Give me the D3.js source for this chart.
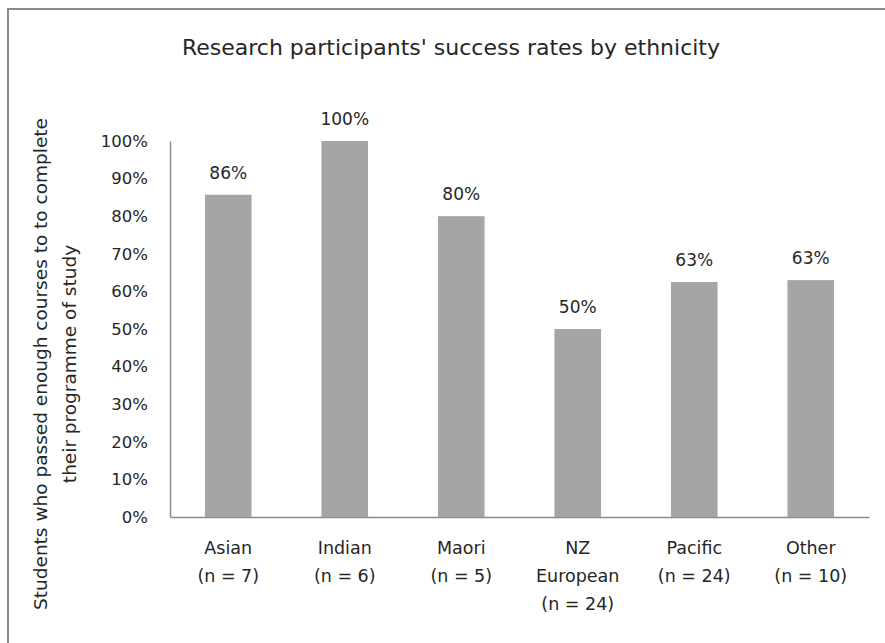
<!DOCTYPE html>
<html>
<head>
<meta charset="utf-8">
<script src="https://cdn.jsdelivr.net/npm/d3@7"></script>
<style>
  html, body { margin: 0; padding: 0; background: #fff; }
  text { font-family: "DejaVu Sans", sans-serif; fill: #262626; }
</style>
</head>
<body>
<svg id="chart" width="885" height="643"></svg>
<script>
const title = "Research participants' success rates by ethnicity";
const categories = ["Asian", "Indian", "Maori", "NZ European", "Pacific", "Other"];
const categoryLines = [["Asian", "(n = 7)"], ["Indian", "(n = 6)"], ["Maori", "(n = 5)"],
                       ["NZ", "European", "(n = 24)"], ["Pacific", "(n = 24)"], ["Other", "(n = 10)"]];
const values = [0.857, 1.00, 0.80, 0.50, 0.625, 0.63];
const valueLabels = ["86%", "100%", "80%", "50%", "63%", "63%"];
const yTicks = [0, 0.1, 0.2, 0.3, 0.4, 0.5, 0.6, 0.7, 0.8, 0.9, 1.0];
const yTitleLines = ["Students who passed enough courses to to complete", "their programme of study"];

const svg = d3.select("#chart");

// outer chart border (extends past right/bottom edges as in the reference)
svg.append("rect")
  .attr("x", 8).attr("y", 9).attr("width", 900).attr("height", 700)
  .attr("fill", "none").attr("stroke", "#8a8a8a").attr("stroke-width", 2);

const plot = { left: 170, right: 869, top: 141, bottom: 517 };

const x = d3.scaleBand().domain(categories).range([plot.left, plot.right]).paddingInner(0.6).paddingOuter(0.3);
const y = d3.scaleLinear().domain([0, 1]).range([plot.bottom, plot.top]);

// title
svg.append("text")
  .attr("x", 451).attr("y", 55)
  .attr("text-anchor", "middle")
  .style("font-size", "22px")
  .text(title);

// y axis
const yAxis = d3.axisLeft(y).tickValues(yTicks).tickFormat(d3.format(".0%")).tickSize(0).tickPadding(22);
const gy = svg.append("g").attr("transform", `translate(${plot.left},0)`).call(yAxis);
gy.select(".domain").attr("stroke", "#8c8c8c").attr("stroke-width", 1.5);
gy.selectAll("text").style("font-size", "16.5px").attr("fill", "#262626").style("font-family", "DejaVu Sans");

// x axis line
const xAxis = d3.axisBottom(x).tickSize(0).tickFormat("");
const gx = svg.append("g").attr("transform", `translate(0,${plot.bottom})`).call(xAxis);
gx.select(".domain").attr("stroke", "#8c8c8c").attr("stroke-width", 1.5);

// category labels
categories.forEach((c, i) => {
  const t = svg.append("text")
    .attr("x", x(c) + x.bandwidth() / 2)
    .attr("y", 554)
    .attr("text-anchor", "middle")
    .style("font-size", "17.5px");
  categoryLines[i].forEach((ln, j) => {
    t.append("tspan").attr("x", x(c) + x.bandwidth() / 2).attr("dy", j === 0 ? 0 : 28).text(ln);
  });
});

// bars
svg.append("g").selectAll("rect").data(categories).join("rect")
  .attr("x", d => x(d))
  .attr("y", (d, i) => y(values[i]))
  .attr("width", x.bandwidth())
  .attr("height", (d, i) => y(0) - y(values[i]))
  .attr("fill", "#a5a5a5");

// value labels
svg.append("g").selectAll("text").data(categories).join("text")
  .attr("x", d => x(d) + x.bandwidth() / 2)
  .attr("y", (d, i) => y(values[i]) - 16)
  .attr("text-anchor", "middle")
  .style("font-size", "17px")
  .text((d, i) => valueLabels[i]);

// y axis title (two rotated lines)
const yt = svg.append("text")
  .attr("transform", "translate(0,364) rotate(-90)")
  .attr("text-anchor", "middle")
  .style("font-size", "18.5px");
yt.append("tspan").attr("x", 0).attr("y", 47).text(yTitleLines[0]);
yt.append("tspan").attr("x", 0).attr("y", 76).text(yTitleLines[1]);
</script>
</body>
</html>
